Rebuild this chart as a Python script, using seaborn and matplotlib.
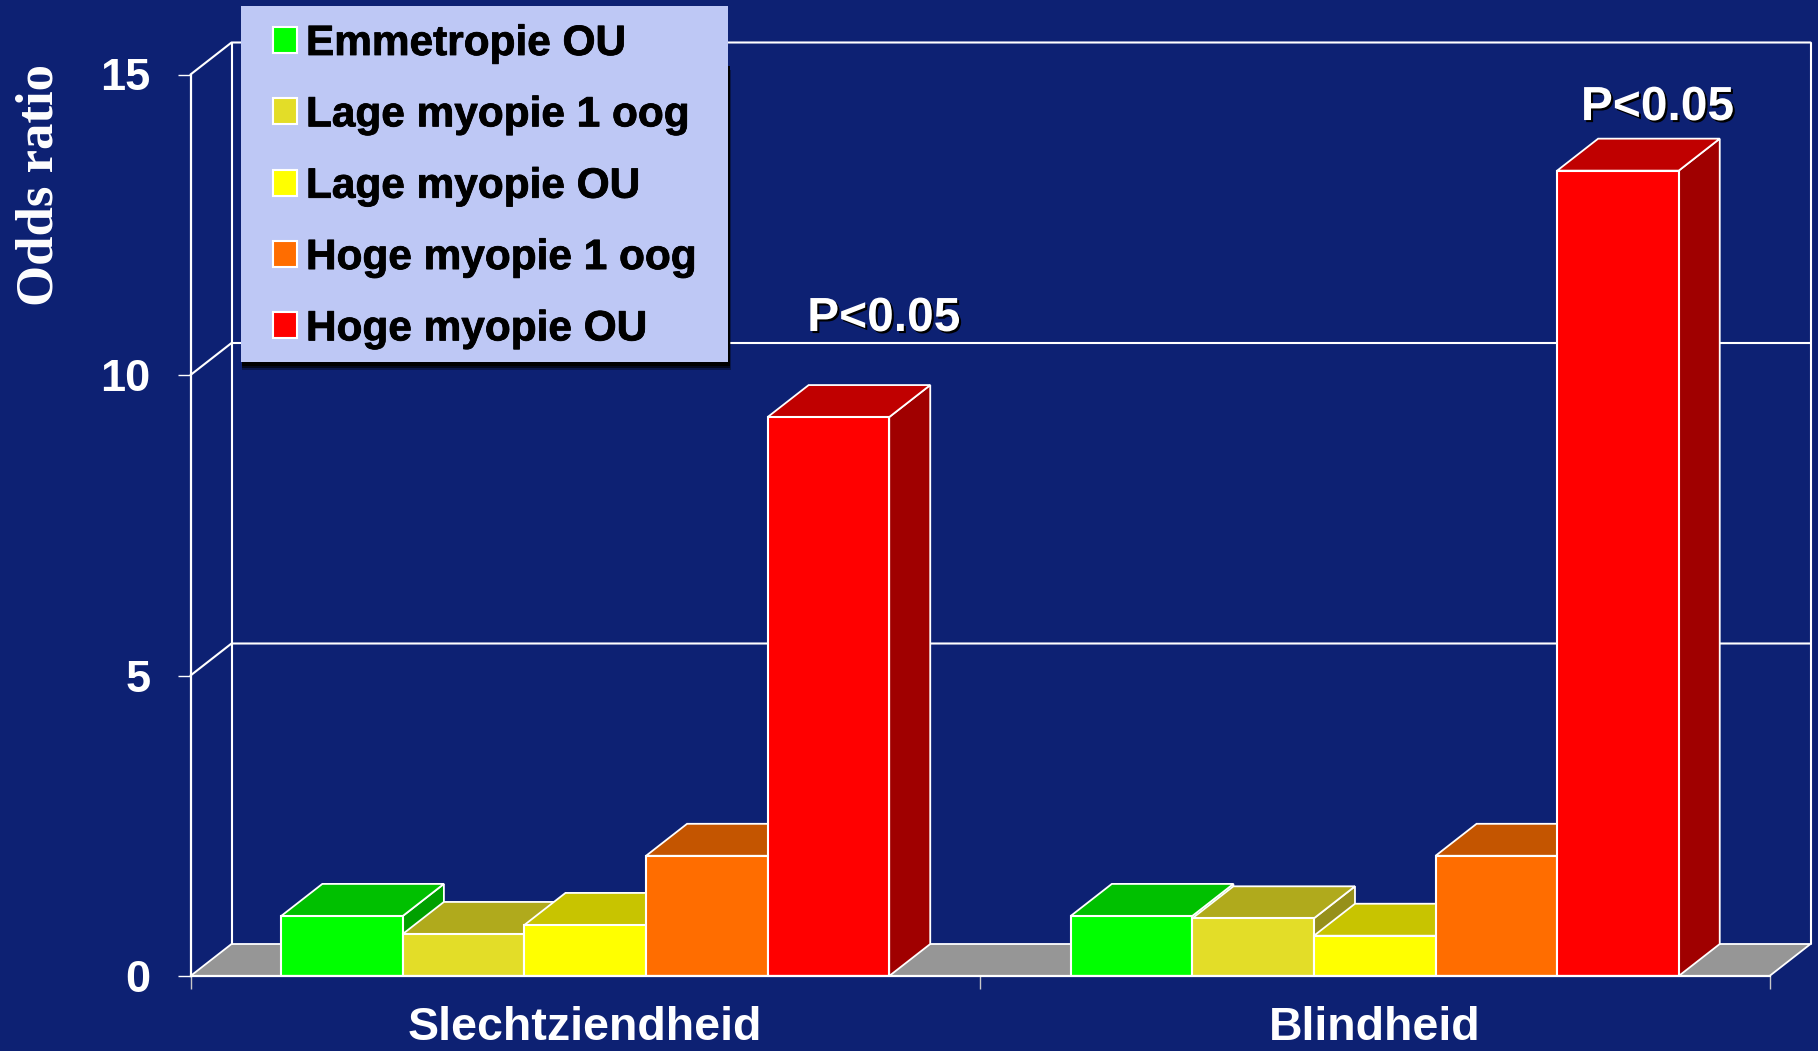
import pandas as pd
import seaborn as sns
import matplotlib.pyplot as plt
from matplotlib.patches import Polygon, Rectangle
import matplotlib.patheffects as pe

groepen = ["Slechtziendheid", "Blindheid"]
soorten = ["Emmetropie OU", "Lage myopie 1 oog", "Lage myopie OU", "Hoge myopie 1 oog", "Hoge myopie OU"]
slechtziend = [1.0, 0.7, 0.85, 2.0, 9.3]
blind = [1.0, 0.96, 0.67, 2.0, 13.4]

kleur_voor = ["#00FF00", "#E3DD28", "#FFFF00", "#FF6D00", "#FF0000"]
kleur_top = ["#00C000", "#B0AA1C", "#C8C400", "#C45500", "#C00000"]
kleur_zij = ["#00A000", "#96901A", "#A8A800", "#A84800", "#A00000"]

p_tekst = ["P<0.05", "P<0.05"]
p_x = [0.378, 1.358]
p_y = [10.94, 14.45]

y_ticks = [0, 5, 10, 15]
achtergrond = "#0D2173"

df = pd.DataFrame({
    "groep": [g for g in groepen for s in soorten],
    "soort": soorten * 2,
    "odds": slechtziend + blind,
})

sns.set_theme(style="white")
plt.rcParams["font.family"] = ["Liberation Sans", "DejaVu Sans"]
plt.rcParams["font.weight"] = "bold"

fig = plt.figure(figsize=(18.18, 10.51), dpi=100, facecolor=achtergrond)
ax = fig.add_axes([190.5 / 1818, 1 - 976 / 1051, (1769.5 - 190.5) / 1818, (976 - 74.5) / 1051])
ax.patch.set_visible(False)

sns.barplot(data=df, x="groep", y="odds", hue="soort", hue_order=soorten,
            palette=dict(zip(soorten, kleur_voor)), saturation=1, width=0.77, gap=0,
            edgecolor="white", linewidth=1.5, ax=ax)

ax.set_xlim(-0.5, 1.5)
ax.set_ylim(0, 15)

# diepte van het 3d effect in data eenheden
dx = 41 / 789
dy = 32 / 60.1

# 3d zijkanten bij elke balk, van links naar rechts tekenen
balken = []
for i, cont in enumerate(ax.containers):
    for b in cont:
        balken.append((b, i))
balken.sort(key=lambda t: t[0].get_x())

for n, (b, i) in enumerate(balken):
    x = b.get_x()
    w = b.get_width()
    h = b.get_height()
    z = 2 + n * 0.1
    b.set_zorder(z + 0.05)
    top = Polygon([(x, h), (x + w, h), (x + w + dx, h + dy), (x + dx, h + dy)], closed=True,
                  facecolor=kleur_top[i], edgecolor="white", linewidth=1.3, zorder=z, clip_on=False)
    zij = Polygon([(x + w, 0), (x + w, h), (x + w + dx, h + dy), (x + w + dx, dy)], closed=True,
                  facecolor=kleur_zij[i], edgecolor="white", linewidth=1.3, zorder=z, clip_on=False)
    ax.add_patch(zij)
    ax.add_patch(top)

# vloer en achterwand
ax.add_patch(Polygon([(-0.5, 0), (1.5, 0), (1.5 + dx, dy), (-0.5 + dx, dy)], closed=True,
                     facecolor="#969696", edgecolor="white", linewidth=1.3, zorder=1, clip_on=False))
lijn = dict(color="white", linewidth=1.5, zorder=1, clip_on=False)
for t in y_ticks[1:]:
    ax.plot([-0.5, -0.5 + dx, 1.5 + dx], [t, t + dy, t + dy], **lijn)
ax.plot([-0.5 + dx, -0.5 + dx], [dy, 15 + dy], **lijn)
ax.plot([1.5 + dx, 1.5 + dx], [dy, 15 + dy], **lijn)

# assen
sns.despine(ax=ax)
for s in ["left", "bottom"]:
    ax.spines[s].set_color("white")
    ax.spines[s].set_linewidth(1.6)
    ax.spines[s].set_zorder(4)
ax.set_yticks(y_ticks)
ax.set_xticks([-0.5, 0.5, 1.5], labels=[])
ax.set_xticks([0, 1], labels=groepen, minor=True)
ax.tick_params(axis="y", which="major", left=True, length=9.4, width=1, color="white", pad=19.5,
               labelcolor="white", labelsize=32.5)
ax.tick_params(axis="x", which="major", bottom=True, length=9.4, width=1, color="#C8C8C8")
ax.tick_params(axis="x", which="minor", bottom=False, length=0, pad=21.5, labelcolor="white", labelsize=33.5)
ax.set_xlabel("")
ax.set_ylabel("")

fig.text(39.5 / 1818, 1 - 185 / 1051, "Odds ratio", rotation=90, color="white", fontsize=38,
         fontweight="bold", family=["Liberation Serif", "DejaVu Serif"], ha="center", va="center")

for t, x, y in zip(p_tekst, p_x, p_y):
    ax.text(x, y, t, color="white", fontsize=34.5, fontweight="bold", ha="center", va="center", zorder=6,
            path_effects=[pe.withSimplePatchShadow(offset=(1.5, -1.5), shadow_rgbFace="black", alpha=1)])

# legenda vlak met schaduw apart, de legenda zelf zonder frame
for off, a in [(8, 0.35), (6, 0.6), (4, 1)]:
    ax.add_patch(Rectangle((242 / 1818, 1 - (362 + off) / 1051), (487 + off / 4) / 1818, 300 / 1051,
                           transform=fig.transFigure, facecolor="black", edgecolor="none", alpha=a,
                           zorder=4.7, clip_on=False))
ax.add_patch(Rectangle((241 / 1818, 1 - 362 / 1051), 487 / 1818, 356 / 1051, transform=fig.transFigure,
                       facecolor="#BEC8F5", edgecolor="none", zorder=4.8, clip_on=False))

sns.move_legend(ax, "upper left", bbox_to_anchor=(272.5 / 1818, 1 - 24 / 1051), bbox_transform=fig.transFigure,
                borderaxespad=0, title=None, frameon=False, prop={"weight": "bold", "size": 30.5},
                labelcolor="black", handlelength=0.57, handleheight=0.57, handletextpad=0.22,
                labelspacing=0.74, borderpad=0)
for t in ax.get_legend().get_texts():
    t.set_path_effects([pe.withStroke(linewidth=0.6, foreground="black")])

fig.savefig("out.png", dpi=100, facecolor=achtergrond)
